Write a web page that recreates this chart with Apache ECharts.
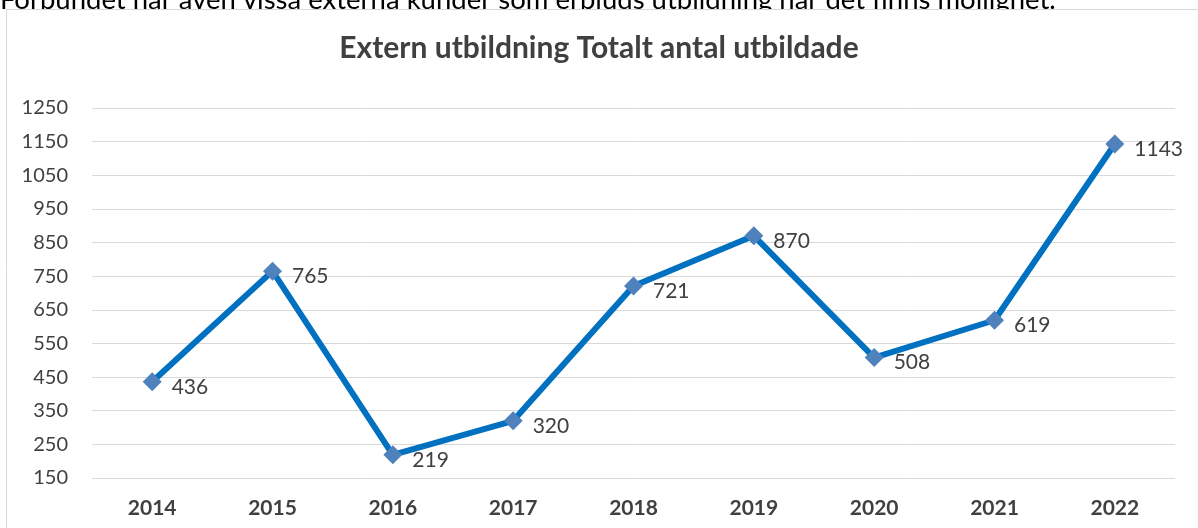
<!DOCTYPE html>
<html>
<head>
<meta charset="utf-8">
<script src="https://cdn.jsdelivr.net/npm/echarts@6/dist/echarts.min.js"></script>
<style>
  html, body { margin: 0; padding: 0; background: #fff; }
  #main { width: 1198px; height: 528px; }
</style>
</head>
<body>
<div id="main"></div>
<script>
var years = ['2014', '2015', '2016', '2017', '2018', '2019', '2020', '2021', '2022'];
var utbildade = [436, 765, 219, 320, 721, 870, 508, 619, 1143];
var yMin = 150, yMax = 1250, yStep = 100;

var chart = echarts.init(document.getElementById('main'));
var textColor = '#404040';
var font = 'Lato, "Liberation Sans", sans-serif';

var options = {
    backgroundColor: '#fff',
    title: {
        text: 'Extern utbildning Totalt antal utbildade',
        left: 'center',
        top: 28,
        textStyle: { fontFamily: font, fontSize: 30, fontWeight: 'bold', color: textColor }
    },
    graphic: [
        {
            type: 'text',
            left: 0,
            top: -14,
            z: -2,
            style: {
                text: 'Förbundet har även vissa externa kunder som erbjuds utbildning när det finns möjlighet.',
                fontFamily: font,
                fontSize: 27.5,
                fill: '#000'
            }
        },
        {
            type: 'rect',
            z: -1,
            shape: { x: 6.5, y: 9.5, width: 1200, height: 530 },
            style: { fill: '#fff', stroke: '#d9d9d9', lineWidth: 1 }
        }
    ],
    grid: { left: 92, right: 23, top: 108, bottom: 50 },
    xAxis: {
        type: 'category',
        data: years,
        boundaryGap: true,
        axisLine: { show: false },
        axisTick: { show: false },
        axisLabel: { margin: 20, fontFamily: font, fontSize: 21, fontWeight: 'bold', color: textColor }
    },
    yAxis: {
        type: 'value',
        min: yMin,
        max: yMax,
        interval: yStep,
        axisLine: { show: false },
        axisTick: { show: false },
        splitLine: { lineStyle: { color: '#d9d9d9', width: 1 } },
        axisLabel: {
            margin: 24,
            fontFamily: font,
            fontSize: 20,
            color: textColor,
            formatter: function (v) { return String(v); }
        }
    },
    series: [
        {
            type: 'line',
            data: utbildade,
            symbol: 'diamond',
            symbolSize: 19,
            lineStyle: { color: '#0070c0', width: 6 },
            itemStyle: { color: '#4f81bd' },
            label: {
                show: true,
                position: 'right',
                distance: 10,
                offset: [0, 5],
                fontFamily: font,
                fontSize: 21,
                color: textColor
            },
            animation: false
        }
    ]
};
chart.setOption(options);
</script>
</body>
</html>
